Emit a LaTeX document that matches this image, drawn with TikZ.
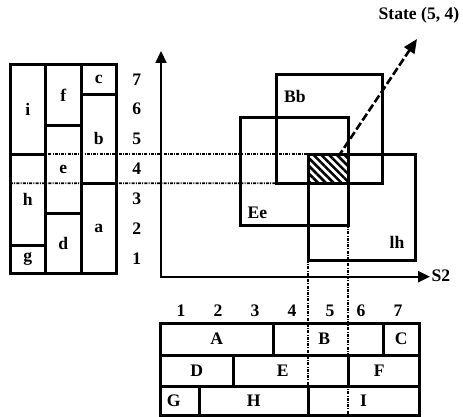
\documentclass[tikz,border=0pt]{standalone}
\usepackage{fontspec}
\setmainfont{Liberation Serif}
\usetikzlibrary{arrows.meta,patterns.meta}
\newcommand\lblfont{\fontsize{17.6}{20}\selectfont\bfseries}
\tikzset{
  cell/.style={draw, line width=3pt, inner sep=0pt, outer sep=0pt, font=\lblfont},
  lbl/.style={font=\lblfont, inner sep=0pt},
  guide/.style={line width=1.8pt, dash pattern=on 3pt off 1.2pt on 1pt off 1.2pt},
  axis/.style={line width=2.2pt},
  statearrow/.style={line width=2.6pt, dash pattern=on 8pt off 3pt,
    -{Triangle[length=14pt,width=12pt]}},
}
% \boxnode[options]{name}{x1}{y1}{x2}{y2}{text}: a node filling the box (x1,y1)-(x2,y2)
\newcommand\boxnode[7][]{%
  \node[cell, #1, minimum width={#5pt-#3pt}, minimum height={#6pt-#4pt}]
    (#2) at ({(#3+#5)/2},{(#4+#6)/2}) {#7};}
\begin{document}
\begin{tikzpicture}[x=1pt,y=-1pt]
\useasboundingbox (0,0) rectangle (463,417);

% S1 partitions (left table)
\boxnode{i}{10}{65}{45.7}{154}{i}
\boxnode{h}{10}{154}{45.7}{245}{h}
\boxnode{g}{10}{245}{45.7}{273.3}{g}
\boxnode{f}{45.7}{65}{81}{126}{f}
\boxnode{e}{45.7}{126}{81}{213.3}{e}
\boxnode{d}{45.7}{213.3}{81}{273.3}{d}
\boxnode{c}{81}{65}{116.7}{94.3}{c}
\boxnode{b}{81}{94.3}{116.7}{183.3}{b}
\boxnode{a}{81}{183.3}{116.7}{273.3}{a}

% S1 values
\node[lbl] (r7) at (136.7,79.5)  {7};
\node[lbl] (r6) at (136.7,109)   {6};
\node[lbl] (r5) at (136.7,139)   {5};
\node[lbl] (r4) at (136.7,169)   {4};
\node[lbl] (r3) at (136.7,198.5) {3};
\node[lbl] (r2) at (136.7,229)   {2};
\node[lbl] (r1) at (136.7,259)   {1};

% S2 partitions (bottom table)
\boxnode{A}{160}{323.3}{273.3}{355}{A}
\boxnode{B}{273.3}{323.3}{383.3}{355}{\makebox[0pt]{\kern-8pt B}}
\boxnode{C}{383.3}{323.3}{419}{355}{C}
\boxnode{D}{160}{355}{233.3}{386.7}{D}
\boxnode{E}{233.3}{355}{348.3}{386.7}{\makebox[0pt]{\kern-16pt E}}
\boxnode{F}{348.3}{355}{419}{386.7}{\makebox[0pt]{\kern-9pt F}}
\boxnode{G}{160}{386.7}{199.3}{415}{\makebox[0pt]{\kern-12pt G}}
\boxnode{H}{199.3}{386.7}{308.3}{415}{H}
\boxnode{I}{308.3}{386.7}{419}{415}{I}

% S2 values
\node[lbl] (c1) at (181,311) {1};
\node[lbl] (c2) at (218,311) {2};
\node[lbl] (c3) at (255,311) {3};
\node[lbl] (c4) at (292,311) {4};
\node[lbl] (c5) at (330,311) {5};
\node[lbl] (c6) at (361,311) {6};
\node[lbl] (c7) at (398,311) {7};

% axes of the state space
\coordinate (O) at (161,276.7);
\coordinate (ytip) at (161,51);
\coordinate (xtip) at (430,276.7);
\draw[axis, {Triangle[length=12pt,width=11pt]}-{Triangle[length=12pt,width=11pt]}]
  (ytip) -- (O) -- (xtip);
\node[lbl] (S2) at (441,275.5) {S2};

% joint regions
\boxnode{Bb}{276}{75}{382.7}{183.3}{}
\boxnode{Ee}{240}{117.7}{348.3}{225}{}
\boxnode{Ih}{308.3}{154}{415.7}{260}{}
\node[lbl] (BbL) at (295,96)  {Bb};
\node[lbl] (EeL) at (257.5,213) {Ee};
\node[lbl] (IhL) at (397,242.5) {lh};

% the active state cell
\boxnode[draw=none, pattern={Lines[angle=-45,distance=5.5pt,line width=2.6pt]}]
  {hat}{308.3}{154}{348.3}{183.3}{}
\draw[line width=3pt] (hat.north west) -- (hat.north east) (hat.south west) -- (hat.south east);

% projection guides
\draw[guide] (i.south west) -- (hat.north west);
\draw[guide] (a.north -| i.west) -- (Bb.south west);
\draw[guide] (Ih.south west) -- (I.south west);
\draw[guide] (Ee.south east) -- (Ee.south east |- I.south);

% pointer to the state label
\coordinate (from) at (338,157);
\coordinate (tip) at (417,39);
\draw[statearrow] (from) -- (tip);
\node[lbl] (state) at (419,15.5) {State (5, 4)};
\end{tikzpicture}
\end{document}
